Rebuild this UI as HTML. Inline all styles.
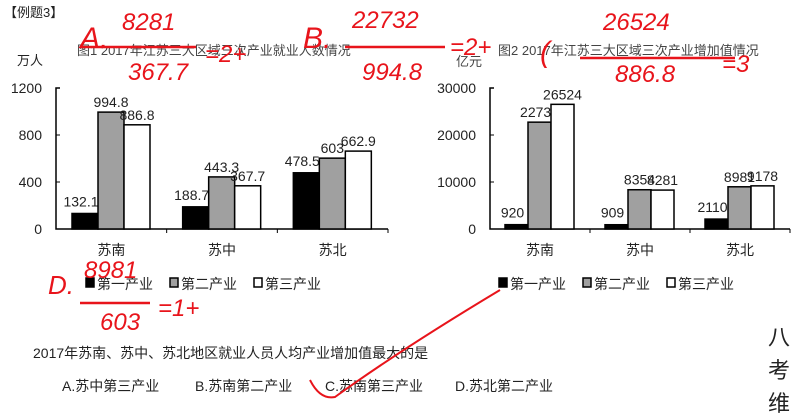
<!DOCTYPE html>
<html><head><meta charset="utf-8"><style>
body{margin:0;width:799px;height:415px;background:#fff;overflow:hidden;font-family:"Liberation Sans","Noto Sans CJK SC",sans-serif;}
svg{position:absolute;left:0;top:0}
</style></head><body>
<svg id="s" width="799" height="415" viewBox="0 0 799 415" xmlns="http://www.w3.org/2000/svg" font-family="Liberation Sans, Noto Sans CJK SC, sans-serif">
<text x="4" y="17" font-size="13" fill="#222">【例题3】</text>
<text x="77" y="55" font-size="13" fill="#444">图1  2017年江苏三大区域三次产业就业人数情况</text>
<text x="17" y="65" font-size="13" fill="#222">万人</text>
<text x="498" y="55" font-size="13" fill="#444">图2  2017年江苏三大区域三次产业增加值情况</text>
<text x="456" y="66" font-size="13" fill="#444">亿元</text>
<g id="c1"></g><g id="c2"></g>
<text x="33" y="358" font-size="14" fill="#222">2017年苏南、苏中、苏北地区就业人员人均产业增加值最大的是</text>
<text x="62" y="391" font-size="14" fill="#222">A.苏中第三产业</text>
<text x="195" y="391" font-size="14" fill="#222">B.苏南第二产业</text>
<text x="325" y="391" font-size="14" fill="#222">C.苏南第三产业</text>
<text x="455" y="391" font-size="14" fill="#222">D.苏北第二产业</text>
<g fill="#222" font-size="22">
<text x="768" y="345">八</text><text x="768" y="378">考</text><text x="768" y="411">维</text></g>
<g fill="#e8141b" stroke="none" font-size="24" font-style="italic">
<text x="80" y="48" font-size="30">A.</text><text x="122" y="30">8281</text><text x="128" y="80">367.7</text><text x="205" y="62">=2+</text>
<text x="303" y="48" font-size="30">B.</text><text x="352" y="28">22732</text><text x="362" y="80">994.8</text><text x="450" y="55">=2+</text>
<text x="540" y="62" font-size="30">(</text><text x="603" y="30">26524</text><text x="615" y="82">886.8</text><text x="722" y="72">=3</text>
<text x="48" y="294" font-size="26">D.</text><text x="84" y="278">8981</text><text x="100" y="330">603</text><text x="158" y="316">=1+</text>
</g>
<g stroke="#e8141b" stroke-width="2.5" fill="none">
<line x1="80" y1="47" x2="196" y2="47"/><line x1="345" y1="47" x2="445" y2="47"/><line x1="580" y1="58" x2="735" y2="58"/><line x1="80" y1="303" x2="150" y2="303"/>
<path d="M310 380 Q320 400 335 397 Q400 350 500 290" stroke-width="2"/>
</g>
</svg>
<script>
const categories=["苏南","苏中","苏北"];
const legendNames=["第一产业","第二产业","第三产业"];
const emp1=[132.1,188.7,478.5];
const emp2=[994.8,443.3,603];
const emp3=[886.8,367.7,662.9];
const empTicks=[0,400,800,1200];
const val1=[920,909,2110];
const val2=[22732,8354,8981];
const val3=[26524,8281,9178];
const valTicks=[0,10000,20000,30000];
const fills=["#000","#a0a0a0","#fff"];
const NS="http://www.w3.org/2000/svg";
function mk(p,t,a){const e=document.createElementNS(NS,t);for(const k in a)e.setAttribute(k,a[k]);p.appendChild(e);return e;}
function draw(g,x0,x1,y0,y1,max,ticks,series,bw,off,legX,pre){
  const ys=v=>y0-(v/max)*(y0-y1);
  const gw=(x1-x0)/categories.length;
  let ax=mk(g,'path',{d:`M${x0+4} ${y1}H${x0}V${y0}H${x1}`,stroke:'#000','stroke-width':1.5,fill:'none'});
  
  ticks.forEach(t=>{let tx=mk(g,'text',{x:x0-14,y:ys(t)+5,'font-size':14,'text-anchor':'end',fill:'#222'});tx.textContent=t;
    
    mk(g,'line',{x1:x0,x2:x0+4,y1:ys(t),y2:ys(t),stroke:'#000'});});
  categories.forEach((c,i)=>{
    const gx=x0+gw*i;
    mk(g,'line',{x1:gx+gw,x2:gx+gw,y1:y0,y2:y0+4,stroke:'#000'});
    let cl=mk(g,'text',{x:gx+gw/2,y:y0+26,'font-size':14,'text-anchor':'middle',fill:'#222'});cl.textContent=c;
    
    series.forEach((s,j)=>{
      const bx=gx+off+bw*j,by=ys(s[i]);
      let r=mk(g,'rect',{x:bx,y:by,width:bw,height:y0-by,fill:fills[j],stroke:'#000','stroke-width':1.5});
      
      let l=mk(g,'text',{x:bx+bw/2-(j==0?4:0),y:by-(j==0?7:5),'font-size':14,'text-anchor':'middle',fill:'#222'});l.textContent=s[i];
      
    });
  });
  legendNames.forEach((n,j)=>{
    const lx=legX+j*84;
    let b=mk(g,'rect',{x:lx,y:278,width:8,height:9,fill:fills[j],stroke:'#000','stroke-width':1.5});
    
    let t=mk(g,'text',{x:lx+11,y:289,'font-size':14,fill:'#222'});t.textContent=n;
    
  });
}
draw(document.getElementById('c1'),56,388,229,88,1200,empTicks,[emp1,emp2,emp3],26,16,86,'chart1-');
draw(document.getElementById('c2'),490,790,229,88,30000,valTicks,[val1,val2,val3],23,15,499,'chart2-');
</script>
</body></html>
